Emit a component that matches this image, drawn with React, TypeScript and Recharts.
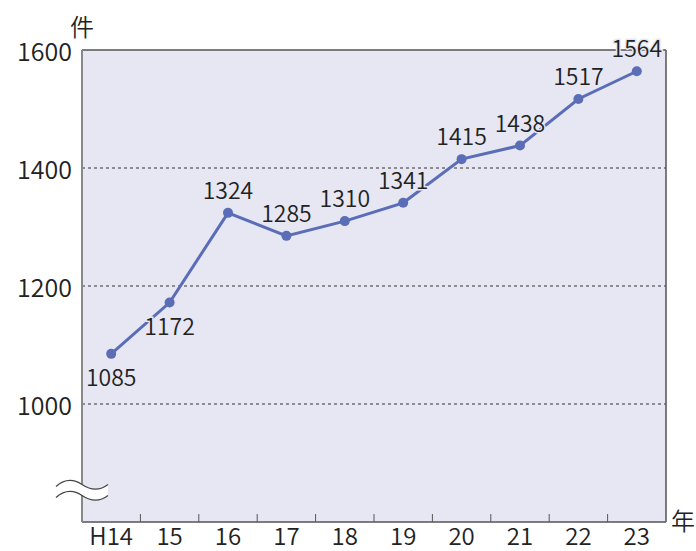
import React from 'react';
import { LineChart, Line, XAxis, YAxis, CartesianGrid, ReferenceLine, LabelList } from 'recharts';

const categories = ['H14', '15', '16', '17', '18', '19', '20', '21', '22', '23'];
const values = [1085, 1172, 1324, 1285, 1310, 1341, 1415, 1438, 1517, 1564];
const yTicks = [1000, 1200, 1400, 1600];
const gridValues = [1000, 1200, 1400];
const labelBelowCategories = ['H14', '15'];
const breakValue = 855;
const yDomain: [number, number] = [800, 1600];
const yUnit = '件';
const xUnit = '年';

const FONT = '"Noto Sans CJK JP", "Noto Sans", sans-serif';
const LINE_COLOR = '#5a6db6';
const BG = '#e6e7f3';
const TEXT = '#222';
const WEIGHT = 350;

const data = categories.map((c, i) => ({ i, cat: c, value: values[i] }));
const xTicks: number[] = categories.flatMap((_, i) => (i < categories.length - 1 ? [i, i + 0.5] : [i]));
const xDomain: [number, number] = [-0.5, categories.length - 0.5];

const XTick = (props: any) => {
  const { x, y, payload } = props;
  const v = payload.value as number;
  if (!Number.isInteger(v)) {
    return <line x1={x} x2={x} y1={y} y2={y - 8} stroke="#555" strokeWidth={1} />;
  }
  return (
    <text x={x} y={y + 23} textAnchor="middle" fontSize={24} fontWeight={WEIGHT} fontFamily={FONT} fill={TEXT}>
      {categories[v]}
    </text>
  );
};

const YTick = (props: any) => {
  const { x, y, payload } = props;
  const v = payload.value as number;
  if (v === breakValue) {
    const top = `M ${x - 26} ${y - 3} C ${x - 17} ${y - 11}, ${x - 9} ${y - 11}, ${x} ${y - 5} S ${x + 17} ${y + 2}, ${x + 26} ${y - 5}`;
    const bot = `M ${x - 26} ${y + 8} C ${x - 17} ${y}, ${x - 9} ${y}, ${x} ${y + 6} S ${x + 17} ${y + 13}, ${x + 26} ${y + 6}`;
    const fillPath = `M ${x - 26} ${y - 3} C ${x - 17} ${y - 11}, ${x - 9} ${y - 11}, ${x} ${y - 5} S ${x + 17} ${y + 2}, ${x + 26} ${y - 5} L ${x + 26} ${y + 6} C ${x + 17} ${y + 13}, ${x + 9} ${y + 12}, ${x} ${y + 6} C ${x - 9} ${y}, ${x - 17} ${y}, ${x - 26} ${y + 8} Z`;
    return (
      <g>
        <path d={fillPath} fill="#fff" stroke="none" />
        <path d={top} fill="none" stroke="#444" strokeWidth={1.2} />
        <path d={bot} fill="none" stroke="#444" strokeWidth={1.2} />
      </g>
    );
  }
  return (
    <text x={x - 10} y={y + 11} textAnchor="end" fontSize={25} fontWeight={WEIGHT} fontFamily={FONT} fill={TEXT}>
      {v}
    </text>
  );
};

const DataLabel = (props: any) => {
  const { x, y, value, index } = props;
  const below = labelBelowCategories.includes(categories[index]);
  return (
    <text
      x={x}
      y={below ? y + 32 : y - 14}
      textAnchor="middle"
      fontSize={23}
      fontWeight={WEIGHT}
      fontFamily={FONT}
      fill={TEXT}
      stroke={BG}
      strokeWidth={3}
      paintOrder="stroke"
    >
      {value}
    </text>
  );
};

export default function App() {
  return (
    <div style={{ position: 'absolute', left: 0, top: 0 }}>
      <LineChart width={696} height={551} data={data} margin={{ top: 50, right: 30, left: 0, bottom: 0 }}>
        <CartesianGrid fill={BG} horizontal={false} vertical={false} />
        {gridValues.map((g) => (
          <ReferenceLine key={g} y={g} stroke="#333" strokeDasharray="3 3" strokeWidth={1} />
        ))}
        <ReferenceLine
          y={yDomain[1]}
          stroke="#555"
          strokeWidth={1.5}
          label={(p: any) => (
            <text x={p.viewBox.x} y={p.viewBox.y - 14} textAnchor="middle" fontSize={24} fontWeight={WEIGHT} fontFamily={FONT} fill={TEXT}>
              {yUnit}
            </text>
          )}
        />
        <ReferenceLine
          x={xDomain[1]}
          stroke="#555"
          strokeWidth={1.5}
          label={(p: any) => (
            <text x={p.viewBox.x + 17} y={p.viewBox.y + p.viewBox.height + 8} textAnchor="middle" fontSize={24} fontWeight={WEIGHT} fontFamily={FONT} fill={TEXT}>
              {xUnit}
            </text>
          )}
        />
        <XAxis
          type="number"
          dataKey="i"
          domain={xDomain}
          ticks={xTicks}
          interval={0}
          tickLine={false}
          tickSize={0}
          tickMargin={0}
          tick={<XTick />}
          axisLine={{ stroke: '#555', strokeWidth: 1.5 }}
          height={29}
          allowDecimals
        />
        <YAxis
          type="number"
          domain={yDomain}
          ticks={[breakValue, ...yTicks]}
          interval={0}
          tickLine={false}
          tickSize={0}
          tickMargin={0}
          tick={<YTick />}
          axisLine={{ stroke: '#888', strokeWidth: 2 }}
          width={82}
        />
        <Line
          dataKey="value"
          stroke={LINE_COLOR}
          strokeWidth={3}
          dot={{ r: 5, fill: LINE_COLOR, stroke: 'none' }}
          isAnimationActive={false}
        >
          <LabelList dataKey="value" content={<DataLabel />} />
        </Line>
      </LineChart>
    </div>
  );
}
